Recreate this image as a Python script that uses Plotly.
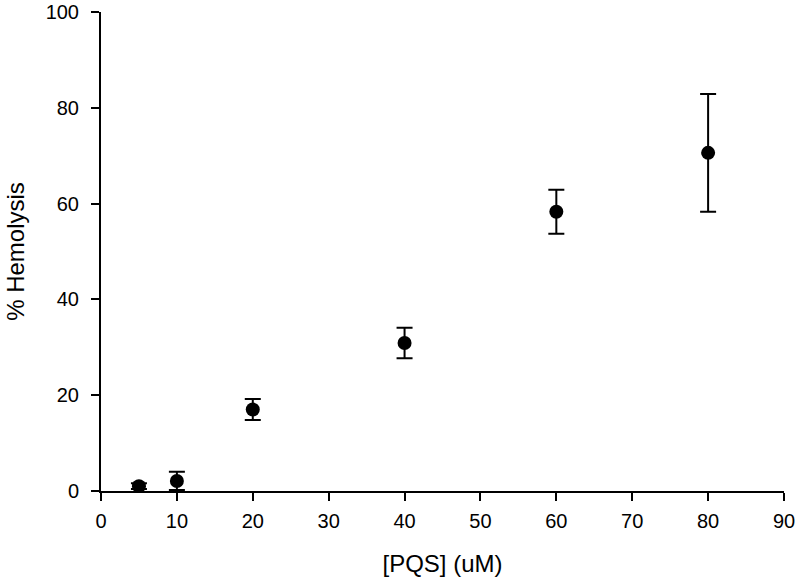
import plotly.graph_objects as go

# Datos
pqs_um = [5, 10, 20, 40, 60, 80]
hemolisis = [1.0, 2.1, 17.0, 30.9, 58.3, 70.6]
error_sd = [0.6, 1.9, 2.2, 3.2, 4.6, 12.3]

x_ticks = [0, 10, 20, 30, 40, 50, 60, 70, 80, 90]
y_ticks = [0, 20, 40, 60, 80, 100]

fig = go.Figure()

fig.add_trace(go.Scatter(
    x=pqs_um, y=hemolisis,
    mode='markers',
    marker=dict(color='black', size=14, symbol='circle'),
    error_y=dict(type='data', array=error_sd, visible=True,
                 color='black', thickness=2, width=8),
    showlegend=False
))

fig.update_layout(
    width=800, height=581,
    margin=dict(l=101, r=16, t=12, b=90),
    plot_bgcolor='white',
    paper_bgcolor='white',
    font=dict(family='Liberation Sans, Arial, sans-serif', size=20, color='black'),
)

fig.update_xaxes(
    range=[0, 90], tickvals=x_ticks, automargin=False,
    showline=True, linecolor='black', linewidth=2,
    ticks='outside', ticklen=8, tickwidth=2, tickcolor='black',
    ticklabelstandoff=3,
    showgrid=False, zeroline=False,
    title=dict(text='[PQS] (uM)', standoff=24),
)

fig.update_yaxes(
    range=[0, 100], tickvals=y_ticks, automargin=False,
    showline=True, linecolor='black', linewidth=2,
    ticks='outside', ticklen=8, tickwidth=2, tickcolor='black',
    ticklabelstandoff=8,
    showgrid=False, zeroline=False,
    title=dict(text='% Hemolysis', standoff=14),
)

# quitar el margen del body para que la figura empiece en (0, 0)
fig.write_html("out.html", config={'displayModeBar': False},
               post_script="document.body.style.margin='0';")
